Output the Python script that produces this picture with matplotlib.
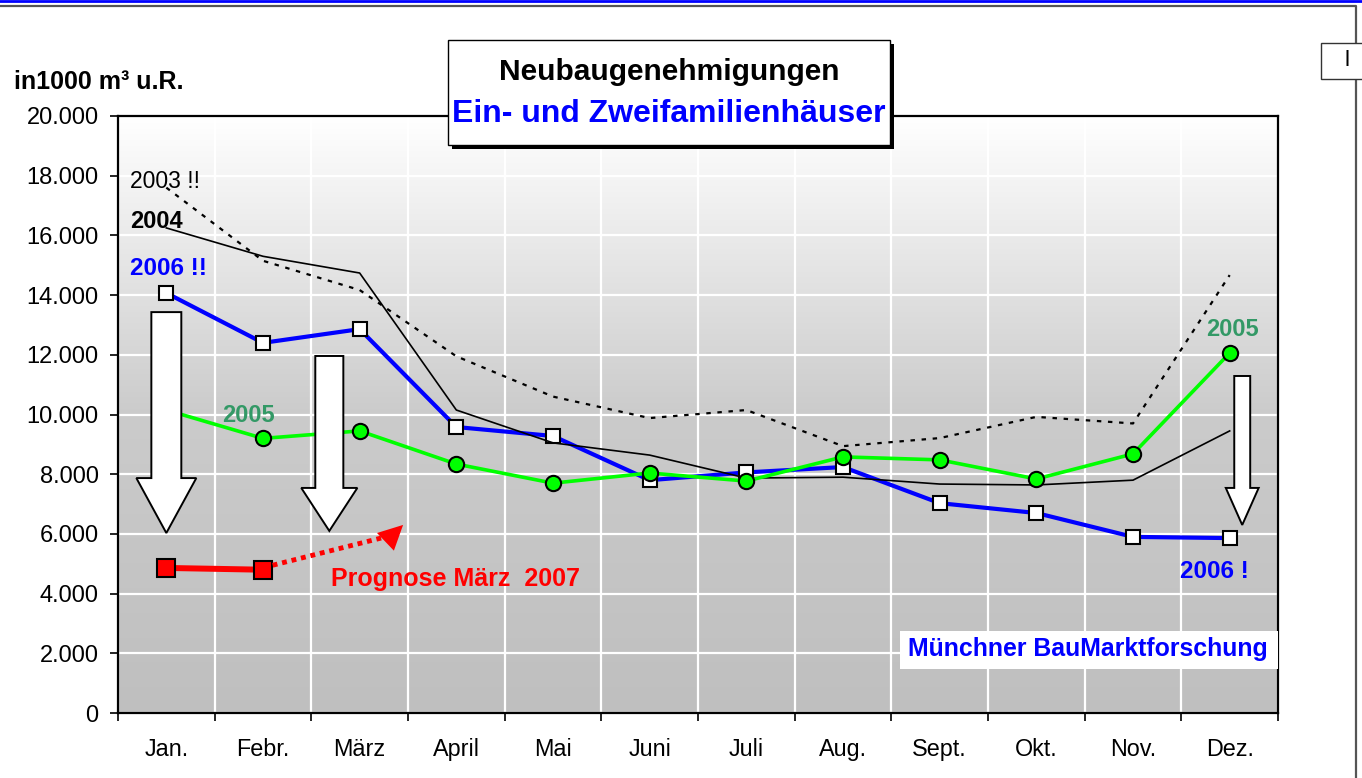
import numpy as np
import matplotlib
matplotlib.use("Agg")
import matplotlib.pyplot as plt
from matplotlib.patches import Rectangle, FancyArrow, FancyArrowPatch
from matplotlib.lines import Line2D
from matplotlib.colors import LinearSegmentedColormap
from matplotlib.ticker import FuncFormatter

plt.rcParams['font.family'] = ['Liberation Sans', 'DejaVu Sans']

# data (in 1000 m³ umbauter Raum)
months = ['Jan.', 'Febr.', 'März', 'April', 'Mai', 'Juni', 'Juli', 'Aug.',
          'Sept.', 'Okt.', 'Nov.', 'Dez.']
v2003 = [17600, 15150, 14170, 11950, 10600, 9880, 10150, 8940, 9210, 9920, 9700, 14670]
v2004 = [16250, 15300, 14740, 10150, 9050, 8640, 7870, 7900, 7670, 7640, 7800, 9450]
v2005 = [10150, 9200, 9450, 8340, 7700, 8040, 7770, 8580, 8480, 7840, 8680, 12060]
v2006 = [14070, 12400, 12860, 9580, 9280, 7800, 8060, 8240, 7030, 6700, 5900, 5860]
v2007 = [4860, 4800]
prognose_end = (2.47, 6365)

# block arrows: centre, top, tip, shaft width, head width, head length
block_arrows = [
    (0.0, 13430, 6030, 0.31, 0.62, 1840),
    (1.686, 11960, 6100, 0.29, 0.58, 1440),
    (11.13, 11290, 6300, 0.165, 0.34, 1240),
]

fig = plt.figure(figsize=(13.62, 7.78), dpi=100)
fig.patch.set_facecolor('white')
ax = fig.add_axes([118 / 1362, 65 / 778, 1160 / 1362, 597 / 778])

x = np.arange(len(months))

# gradient background
cmap = LinearSegmentedColormap.from_list('bg', ['#bfbfbf', '#cbcbcb', '#ffffff'])
grad = np.linspace(0, 1, 256)[:, None]
ax.imshow(grad, extent=[-0.5, 11.5, 0, 20000], origin='lower', aspect='auto',
          cmap=cmap, zorder=0, interpolation='bilinear')

ax.set_xlim(-0.5, 11.5)
ax.set_ylim(0, 20000)
ax.set_yticks(range(0, 20001, 2000))
ax.yaxis.set_major_formatter(FuncFormatter(lambda v, p: f"{int(v):,}".replace(',', '.')))
ax.set_xticks(x)
ax.set_xticklabels(months)
ax.set_xticks(np.arange(-0.5, 12, 1), minor=True)
ax.tick_params(axis='x', which='major', length=0, pad=18, labelsize=16.8)
ax.tick_params(axis='x', which='minor', length=6, width=1.2, direction='out')
ax.tick_params(axis='y', length=6, width=1.2, pad=8, labelsize=17)
ax.grid(axis='y', which='major', color='white', lw=1.6, zorder=1)
ax.grid(axis='x', which='minor', color='white', lw=1.6, zorder=1)
ax.set_axisbelow(True)
for s in ax.spines.values():
    s.set_linewidth(1.6)
    s.set_color('black')

# series
ax.plot(x, v2006, color='#0000ff', lw=3, marker='s', ms=10.5, mfc='white',
        mec='black', mew=1.5, zorder=3)
ax.plot(x, v2004, color='black', lw=1.2, zorder=4)
ax.plot(x, v2003, color='black', lw=1.6, ls=(0, (2, 3)), zorder=4)
ax.plot(x, v2005, color='#00ff00', lw=2.6, marker='o', ms=11, mfc='#00ff00',
        mec='black', mew=1.5, zorder=5)
ax.plot(x[:2], v2007, color='#ff0000', lw=4.3, marker='s', ms=12.5, mfc='#ff0000',
        mec='black', mew=1.5, zorder=6)

# forecast arrow
ax.plot([x[1] + 0.1, prognose_end[0] - 0.12], [v2007[1] + 150, prognose_end[1] - 400],
        color='#ff0000', lw=3.5, ls=(0, (1, 1)), zorder=6)
ax.add_patch(FancyArrowPatch((prognose_end[0] - 0.2, prognose_end[1] - 620), prognose_end,
                             arrowstyle='-|>,head_length=0.8,head_width=0.4',
                             mutation_scale=22, color='#ff0000', lw=0, zorder=6))

# block arrows
for cx, top, tip, sw, hw, hl in block_arrows:
    ax.add_patch(FancyArrow(cx, top, 0, tip - top, width=sw, head_width=hw,
                            head_length=hl, length_includes_head=True,
                            fc='white', ec='black', lw=1.4, zorder=7))

# labels
ax.text(-0.372, 17590, '2003 !!', fontsize=16.5, color='black', va='baseline', zorder=8)
ax.text(-0.372, 16250, '2004', fontsize=17, fontweight='bold', color='black',
        va='baseline', zorder=8)
ax.text(-0.372, 14670, '2006 !!', fontsize=17.5, fontweight='bold', color='#0000ff',
        va='baseline', zorder=8)
ax.text(0.58, 9750, '2005', fontsize=17, fontweight='bold', color='#339966',
        va='baseline', zorder=8)
ax.text(11.03, 12630, '2005', fontsize=17, fontweight='bold', color='#339966',
        va='baseline', ha='center', zorder=8)
ax.text(10.84, 4520, '2006 !', fontsize=17.5, fontweight='bold', color='#0000ff',
        va='baseline', ha='center', zorder=8)
ax.text(1.70, 4250, 'Prognose März  2007', fontsize=18, fontweight='bold',
        color='#ff0000', va='baseline', zorder=8)
ax.add_patch(Rectangle((7.59, 1480), 11.5 - 7.59, 1270, fc='white', ec='none', zorder=7))
ax.text(7.67, 1910, 'Münchner BauMarktforschung', fontsize=17.9, fontweight='bold',
        color='#0000ff', va='baseline', zorder=8)

# title box with shadow
W, H = 1362, 778
fig.patches.append(Rectangle((452 / W, 1 - 149 / H), 442 / W, 105 / H,
                             transform=fig.transFigure, fc='black', ec='none', zorder=5))
fig.patches.append(Rectangle((448 / W, 1 - 145 / H), 442 / W, 105 / H,
                             transform=fig.transFigure, fc='white', ec='black', lw=1,
                             zorder=6))
fig.text(669 / W, 1 - 72 / H, 'Neubaugenehmigungen', fontsize=21.5, fontweight='bold',
         ha='center', va='center', zorder=7)
fig.text(669 / W, 1 - 114 / H, 'Ein- und Zweifamilienhäuser', fontsize=23,
         fontweight='bold', color='#0000ff', ha='center', va='center', zorder=7)

fig.text(14 / W, 1 - 82 / H, 'in1000 m³ u.R.', fontsize=18, fontweight='bold',
         ha='left', va='center')

# outer frame
fig.add_artist(Line2D([0, 1], [1 - 1 / H, 1 - 1 / H], transform=fig.transFigure,
                      color='#0000ff', lw=2))
fig.add_artist(Line2D([0, 1356 / W, 1356 / W], [1 - 6 / H, 1 - 6 / H, 0],
                      transform=fig.transFigure, color='#555555', lw=1.6))
fig.patches.append(Rectangle((1321 / W, 1 - 79 / H), 45 / W, 36 / H,
                             transform=fig.transFigure, fc='white', ec='#333333', lw=1,
                             zorder=6))
fig.text(1347 / W, 1 - 61 / H, 'l', fontsize=16, ha='center', va='center', zorder=7)

fig.savefig('out.png', dpi=100)
